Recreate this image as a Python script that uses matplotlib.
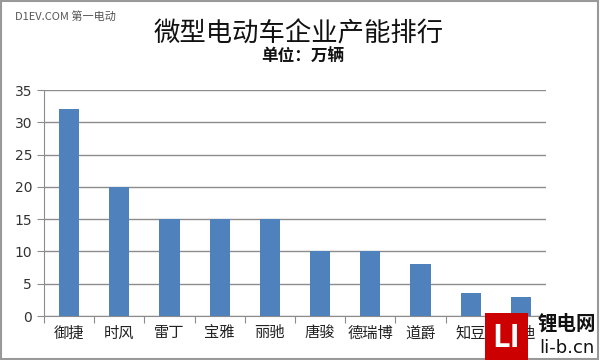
import matplotlib
matplotlib.use("Agg")
import matplotlib.pyplot as plt
from matplotlib.patches import Rectangle

plt.rcParams["font.family"] = ["Noto Sans CJK SC", "DejaVu Sans"]

# 数据（单位：万辆）
companies = ["御捷", "时风", "雷丁", "宝雅", "丽驰", "唐骏", "德瑞博", "道爵", "知豆", "康迪"]
capacity = [32, 20, 15, 15, 15, 10, 10, 8, 3.5, 3]
yticks = [0, 5, 10, 15, 20, 25, 30, 35]

fig = plt.figure(figsize=(6, 3.6), dpi=100)
ax = fig.add_axes([0.0733, 0.122, 0.8367, 0.628])

x = list(range(len(companies)))
ax.bar(x, capacity, width=0.4, color="#4F81BD", zorder=3)

ax.set_xlim(-0.5, len(companies) - 0.5)
ax.set_ylim(0, 35)
ax.set_yticks(yticks)
ax.set_yticklabels([str(v) for v in yticks], fontsize=10, color="#333333",
                   family=["DejaVu Sans"])
ax.grid(axis="y", color="#8c8c8c", linewidth=1.0, zorder=0)

# x 轴刻度放在类别之间
ax.set_xticks([i - 0.5 for i in range(len(companies) + 1)])
ax.set_xticklabels([])
ax.set_xticks(x, minor=True)
ax.set_xticklabels(companies, minor=True, fontsize=11, color="#222222")
ax.tick_params(axis="x", which="minor", length=0, pad=6)
ax.tick_params(axis="x", which="major", length=5, color="#8c8c8c", direction="out")
ax.tick_params(axis="y", length=5, color="#8c8c8c", direction="out")

for side in ["top", "right"]:
    ax.spines[side].set_visible(False)
ax.spines["left"].set_color("#8c8c8c")
ax.spines["bottom"].set_color("#8c8c8c")

fig.text(0.498, 0.905, "微型电动车企业产能排行", ha="center", va="center",
         fontsize=19, color="#111111")
fig.text(0.505, 0.842, "单位：万辆", ha="center", va="center",
         fontsize=12, fontweight="bold", color="#111111")
fig.text(0.025, 0.955, "D1EV.COM 第一电动", ha="left", va="center",
         fontsize=8, color="#555555")

# 外框
fig.patches.append(Rectangle((0.002, 0.003), 0.994, 0.994, transform=fig.transFigure,
                             fill=False, edgecolor="#999999", linewidth=1.5))

# 右下角水印
fig.patches.append(Rectangle((0.808, 0.0), 0.072, 0.13, transform=fig.transFigure,
                             facecolor="#cc0000", edgecolor="none", zorder=5))
fig.text(0.844, 0.062, "LI", ha="center", va="center", fontsize=22,
         fontweight="bold", color="white", zorder=6)
fig.text(0.945, 0.1, "锂电网", ha="center", va="center", fontsize=14,
         fontweight="bold", color="#111111", zorder=6)
fig.text(0.945, 0.033, "li-b.cn", ha="center", va="center", fontsize=13,
         color="#111111", zorder=6, family=["DejaVu Sans"])

fig.savefig("out.png", dpi=100)
